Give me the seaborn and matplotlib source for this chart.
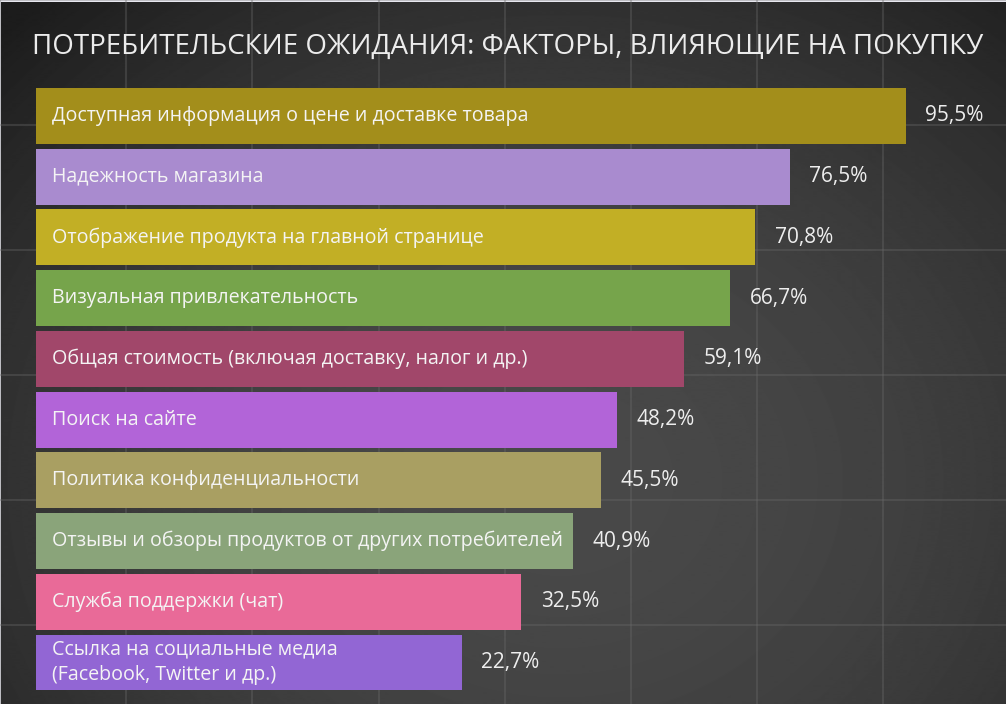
"""Consumer expectations: factors that influence a purchase, as horizontal bars"""
import numpy as np
import matplotlib
matplotlib.use("Agg")
import matplotlib.pyplot as plt
import seaborn as sns

title = "ПОТРЕБИТЕЛЬСКИЕ ОЖИДАНИЯ: ФАКТОРЫ, ВЛИЯЮЩИЕ НА ПОКУПКУ"

factors = [
    "Доступная информация о цене и доставке товара",
    "Надежность магазина",
    "Отображение продукта на главной странице",
    "Визуальная привлекательность",
    "Общая стоимость (включая доставку, налог и др.)",
    "Поиск на сайте",
    "Политика конфиденциальности",
    "Отзывы и обзоры продуктов от других потребителей",
    "Служба поддержки (чат)",
    "Ссылка на социальные медиа\n(Facebook, Twitter и др.)",
]
shares = [95.5, 76.5, 70.8, 66.7, 59.1, 48.2, 45.5, 40.9, 32.5, 22.7]
share_labels = ["95,5%", "76,5%", "70,8%", "66,7%", "59,1%",
                "48,2%", "45,5%", "40,9%", "32,5%", "22,7%"]
bar_colors = ["#a38e1b", "#a98bcf", "#c2af25", "#76a44b", "#a1476a",
              "#b264d8", "#a99f62", "#8aa47a", "#e96a98", "#9266d4"]

# the bars in the original start well left of zero (offset baseline)
BASE = 47

sns.set_theme(style="dark")
plt.rcParams["font.family"] = ["Open Sans", "DejaVu Sans"]

fig = plt.figure(figsize=(10.06, 7.04), dpi=100)

# background: dark radial gradient with a faint square grid
bg = fig.add_axes([0, 0, 1, 1])
yy, xx = np.mgrid[0:704, 0:1006]
r = np.hypot((xx - 560) / 640, (yy - 480) / 540)
shade = 0.285 - 0.12 * np.clip(r, 0, 1.2) ** 2
bg.imshow(shade, cmap="gray", vmin=0, vmax=1, extent=(0, 1006, 704, 0),
          aspect="auto", interpolation="bilinear")
bg.set_xlim(0, 1006)
bg.set_ylim(704, 0)
bg.set_xticks(np.arange(-1.5, 1006, 126.4))
bg.set_yticks(np.arange(-3, 704, 125.5))
bg.tick_params(length=0, labelbottom=False, labelleft=False)
bg.grid(True, color="#6a6a6a", linewidth=1.5, alpha=0.35)
for s in bg.spines.values():
    s.set_visible(False)

ax = fig.add_axes([0, 0, 1, 1])
ax.patch.set_alpha(0)
sns.barplot(x=shares, y=factors, hue=factors, palette=bar_colors, legend=False,
            orient="h", width=0.92, saturation=1, linewidth=0, ax=ax)

# extend each bar to the offset baseline, keeping its end on the value
for bar in ax.patches:
    bar.set_x(-BASE)
    bar.set_width(bar.get_width() + BASE)

for container, lab in zip(ax.containers, share_labels):
    ax.bar_label(container, labels=[lab], padding=14, color="#eeeeee",
                 fontsize=15)

for i, name in enumerate(factors):
    ax.annotate(name, xy=(-BASE, i), xytext=(11.5, 0), textcoords="offset points",
                ha="left", va="center", color="#f4f4f4", fontsize=14.1,
                linespacing=1.38)

ax.set_xlim(-52.9, 111.88)
ax.set_ylim(9.683, -1.909)
ax.set_axis_off()

fig.text(0.505, 0.933, title, ha="center", va="center", color="#ececec",
         fontsize=20)

fig.savefig("out.png", dpi=100)
